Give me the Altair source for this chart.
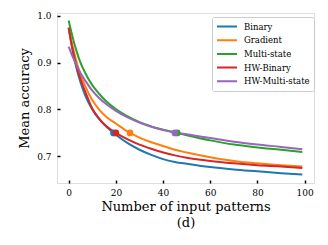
import altair as alt
import pandas as pd

x_vals = [0, 1, 2, 3, 5, 7, 10, 13, 16, 20, 25, 30, 35, 40, 45, 50, 60, 70, 80, 90, 99]

binary = [0.975, 0.945, 0.918, 0.895, 0.858, 0.830, 0.800, 0.779, 0.763, 0.746, 0.728, 0.714,
          0.703, 0.694, 0.688, 0.684, 0.677, 0.672, 0.668, 0.664, 0.661]
gradient = [0.975, 0.950, 0.928, 0.908, 0.875, 0.850, 0.820, 0.799, 0.784, 0.770, 0.753, 0.740,
            0.730, 0.722, 0.714, 0.708, 0.698, 0.690, 0.685, 0.681, 0.678]
multi = [0.990, 0.968, 0.948, 0.930, 0.900, 0.878, 0.852, 0.833, 0.817, 0.801, 0.785, 0.773,
         0.764, 0.757, 0.751, 0.745, 0.734, 0.725, 0.719, 0.714, 0.709]
hw_binary = [0.974, 0.945, 0.920, 0.898, 0.865, 0.838, 0.802, 0.780, 0.764, 0.750, 0.736, 0.725,
             0.716, 0.708, 0.702, 0.697, 0.690, 0.685, 0.681, 0.678, 0.675]
hw_multi = [0.934, 0.921, 0.909, 0.898, 0.878, 0.862, 0.840, 0.824, 0.811, 0.797, 0.783, 0.772,
            0.763, 0.756, 0.751, 0.747, 0.739, 0.731, 0.725, 0.720, 0.715]

series_names = ["Binary", "Gradient", "Multi-state", "HW-Binary", "HW-Multi-state"]
series_colors = ["#1f77b4", "#ff7f0e", "#2ca02c", "#d62728", "#9467bd"]
series_values = [binary, gradient, multi, hw_binary, hw_multi]

marker_x = [19, 26, 46, 20, 45]
marker_y = [0.75, 0.75, 0.75, 0.75, 0.75]

x_ticks = [0, 20, 40, 60, 80, 100]
y_ticks = [0.7, 0.8, 0.9, 1.0]

rows = []
for name, vals in zip(series_names, series_values):
    for xv, yv in zip(x_vals, vals):
        rows.append({"n": xv, "acc": yv, "method": name})
df = pd.DataFrame(rows)

mk = pd.DataFrame({"n": marker_x, "acc": marker_y, "method": series_names})

FONT = "DejaVu Serif"

xscale = alt.Scale(domain=[-4.95, 103.95], nice=False, zero=False)
yscale = alt.Scale(domain=[0.643, 1.006], nice=False, zero=False)
cscale = alt.Scale(domain=series_names, range=series_colors)

xaxis = alt.Axis(values=x_ticks, title=["Number of input patterns", "(d)"], grid=False,
                 domain=False, offset=-3, tickSize=3, tickWidth=1.5, tickColor="black",
                 labelPadding=5, labelFontSize=9, labelFont=FONT, labelColor="black",
                 titleFont=FONT, titleFontSize=13, titleFontWeight="normal", titleColor="black",
                 titlePadding=3, titleLineHeight=16)
yaxis = alt.Axis(values=y_ticks, format=".1f", title="Mean accuracy", grid=False,
                 domain=False, offset=-3, tickSize=3, tickWidth=1.5, tickColor="black",
                 labelPadding=6, labelFontSize=9, labelFont=FONT, labelColor="black",
                 titleFont=FONT, titleFontSize=13, titleFontWeight="normal", titleColor="black",
                 titlePadding=5)

lines = alt.Chart(df).mark_line(strokeWidth=2, interpolate="monotone").encode(
    x=alt.X("n:Q", scale=xscale, axis=xaxis),
    y=alt.Y("acc:Q", scale=yscale, axis=yaxis),
    color=alt.Color("method:N", scale=cscale, sort=series_names,
                    legend=alt.Legend(title=None, orient="none", legendX=155, legendY=4,
                                      symbolType="stroke", symbolSize=400, symbolStrokeWidth=2,
                                      labelFont=FONT, labelFontSize=8.5, labelColor="black",
                                      clipHeight=11, rowPadding=2.7, padding=4,
                                      strokeColor="#cccccc", fillColor="white",
                                      cornerRadius=2, labelOffset=6)),
    detail="method:N",
)

points = alt.Chart(mk).mark_point(filled=True, size=45, opacity=1).encode(
    x=alt.X("n:Q", scale=xscale),
    y=alt.Y("acc:Q", scale=yscale),
    color=alt.Color("method:N", scale=cscale, legend=None),
)

chart = alt.layer(lines, points).properties(
    width=257, height=170,
    autosize=alt.AutoSizeParams(type="none"),
    padding={"left": 49, "top": 5, "right": 6, "bottom": 50},
).configure_view(stroke="black", strokeWidth=2).configure(background="white")

chart.save("out.html", embed_options={"renderer": "svg", "actions": False})
